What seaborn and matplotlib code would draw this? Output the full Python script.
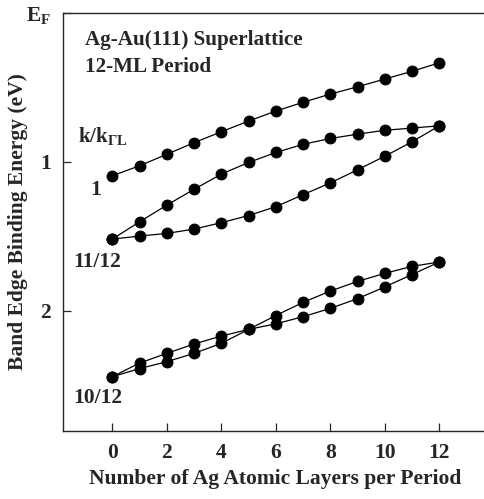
import numpy as np
import pandas as pd
import matplotlib
matplotlib.use('Agg')
import matplotlib.pyplot as plt
import seaborn as sns

# Data (binding energy in eV, 0 = E_F)

layers = list(range(13))

k_1 = [1.094, 1.027, 0.950, 0.872, 0.799, 0.727, 0.660, 0.601, 0.546, 0.497, 0.445, 0.393, 0.336]
k_11_a = [1.519, 1.403, 1.291, 1.185, 1.083, 1.005, 0.938, 0.883, 0.844, 0.815, 0.789, 0.774, 0.759]
k_11_b = [1.519, 1.499, 1.481, 1.452, 1.409, 1.361, 1.302, 1.221, 1.142, 1.054, 0.963, 0.866, 0.759]
k_10_a = [2.443, 2.351, 2.286, 2.223, 2.170, 2.125, 2.032, 1.944, 1.868, 1.803, 1.749, 1.702, 1.673]
k_10_b = [2.443, 2.388, 2.342, 2.286, 2.219, 2.125, 2.088, 2.040, 1.984, 1.919, 1.840, 1.757, 1.673]

xticks = [0, 2, 4, 6, 8, 10, 12]
yticks = [0, 1, 2]
ytick_labels = [r'$\mathrm{E}_\mathrm{F}$', '1', '2']

series = {'1': k_1, '11/12 a': k_11_a, '11/12 b': k_11_b,
          '10/12 a': k_10_a, '10/12 b': k_10_b}
df = pd.concat([pd.DataFrame({'layer': layers, 'energy': v, 'branch': name})
                for name, v in series.items()], ignore_index=True)

# Style

sns.set_style('ticks')
plt.rcParams['font.family'] = ['Liberation Serif', 'DejaVu Serif']
plt.rcParams['font.weight'] = 'bold'
plt.rcParams['mathtext.fontset'] = 'custom'
plt.rcParams['mathtext.rm'] = 'Liberation Serif:bold'
plt.rcParams['mathtext.it'] = 'Liberation Serif:bold'
plt.rcParams['mathtext.bf'] = 'Liberation Serif:bold'
plt.rcParams['mathtext.default'] = 'rm'

fig = plt.figure(figsize=(4.84, 4.99), dpi=100)
ax = fig.add_axes([0.1308, 0.1363, 0.8692, 0.8382])

sns.lineplot(data=df, x='layer', y='energy', units='branch', estimator=None,
             color='black', lw=0.9, marker='o', markersize=7.8,
             markeredgecolor='black', markerfacecolor='black', ax=ax)

ax.set_xlim(-1.80, 13.64)
ax.set_ylim(2.807, 0)

ax.set_xticks(xticks)
ax.set_yticks(yticks)
ax.set_yticklabels(ytick_labels)
ax.tick_params(direction='in', length=6, width=0.9, labelsize=15.5, pad=9,
               top=False, right=False)
for lbl in ax.get_xticklabels() + ax.get_yticklabels():
    lbl.set_fontweight('bold')

for side in ['left', 'bottom', 'top']:
    ax.spines[side].set_linewidth(1.0)
ax.spines['right'].set_visible(False)

ax.set_xlabel('Number of Ag Atomic Layers per Period', fontsize=15.5,
              fontweight='bold')
ax.xaxis.set_label_coords(0.503, -0.091)
ax.set_ylabel('Band Edge Binding Energy (eV)', fontsize=15.5,
              fontweight='bold', va='center')
ax.yaxis.set_label_coords(-0.108, 0.5)

# Annotations
ax.text(-1.0, 0.18, 'Ag-Au(111) Superlattice', fontsize=15.2, fontweight='bold', va='center')
ax.text(-1.0, 0.365, '12-ML Period', fontsize=15.2, fontweight='bold', va='center')
ax.text(-1.25, 0.83, r'$\mathrm{k/k}_{\Gamma\mathrm{L}}$', fontsize=15, va='center')
ax.text(-0.8, 1.19, '1', fontsize=15.5, fontweight='bold', va='center')
ax.text(-1.45, 1.67, '11/12', fontsize=15.5, fontweight='bold', va='center')
ax.text(-1.45, 2.585, '10/12', fontsize=15.5, fontweight='bold', va='center')

fig.savefig('out.png', dpi=100)
